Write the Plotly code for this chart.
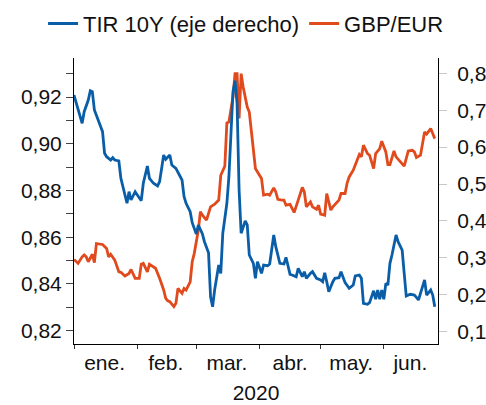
import pandas as pd
import plotly.graph_objects as go

START = pd.Timestamp("2020-01-01")

# GBP/EUR (left axis): day offsets from 2020-01-01 and values
gbp_days = [0, 2, 4, 5, 6, 7, 9, 10, 11, 13,
            14, 16, 17, 18, 20, 22, 23, 25, 27, 28,
            30, 32, 33, 34, 36, 37, 40, 42, 44, 45,
            46, 47, 49, 50, 51, 53, 54, 55, 57, 58,
            59, 61, 62, 63, 65, 67, 69, 71, 72, 74,
            75, 76, 78, 79, 80, 81, 82, 83, 85, 86,
            88, 89, 91, 92, 93, 95, 96, 98, 99, 100,
            102, 103, 104, 106, 107, 108, 110, 112, 113, 114,
            116, 117, 119, 120, 121, 123, 124, 126, 127, 129,
            130, 131, 133, 134, 135, 137, 139, 140, 141, 142,
            144, 145, 147, 148, 150, 151, 153, 154, 155, 157,
            158, 160, 161, 162, 164, 166, 167, 168, 170, 171,
            172, 173, 175, 176, 177]
gbp_eur = [0.8505, 0.8488, 0.8516, 0.8524, 0.8516, 0.8495, 0.8527, 0.8491, 0.8573, 0.8569,
           0.8569, 0.8552, 0.8516, 0.8527, 0.8502, 0.8452, 0.8450, 0.8434, 0.8445, 0.8462,
           0.8424, 0.8424, 0.8484, 0.8488, 0.8452, 0.8484, 0.8467, 0.8424, 0.8374, 0.8338,
           0.8328, 0.8324, 0.8303, 0.8317, 0.8381, 0.8360, 0.8381, 0.8374, 0.8409, 0.8495,
           0.8531, 0.8630, 0.8709, 0.8694, 0.8673, 0.8730, 0.8741, 0.8759, 0.8865, 0.8904,
           0.9089, 0.9093, 0.9200, 0.9300, 0.9300, 0.9108, 0.9300, 0.9243, 0.9157, 0.9136,
           0.8986, 0.8894, 0.8865, 0.8851, 0.8780, 0.8784, 0.8780, 0.8811, 0.8794, 0.8762,
           0.8759, 0.8759, 0.8737, 0.8741, 0.8723, 0.8706, 0.8759, 0.8813, 0.8794, 0.8730,
           0.8751, 0.8730, 0.8720, 0.8737, 0.8699, 0.8694, 0.8787, 0.8716, 0.8730, 0.8751,
           0.8759, 0.8787, 0.8787, 0.8832, 0.8858, 0.8887, 0.8937, 0.8954, 0.8944, 0.8994,
           0.8958, 0.8951, 0.8894, 0.8958, 0.8979, 0.9011, 0.8965, 0.8911, 0.8911, 0.8969,
           0.8944, 0.8925, 0.8918, 0.8904, 0.8969, 0.8972, 0.8965, 0.8941, 0.8951, 0.9011,
           0.9050, 0.9041, 0.9065, 0.9044, 0.9022]

# TIR 10Y (right axis)
tir_days = [0, 2, 4, 5, 7, 8, 9, 10, 12, 14,
            15, 16, 18, 19, 20, 22, 23, 24, 26, 27,
            28, 30, 32, 33, 34, 36, 37, 39, 41, 42,
            44, 45, 47, 48, 50, 52, 53, 54, 55, 57,
            58, 60, 61, 63, 64, 66, 67, 68, 69, 71,
            72, 73, 75, 76, 78, 79, 80, 81, 82, 84,
            85, 86, 88, 89, 90, 92, 93, 95, 96, 98,
            99, 101, 103, 104, 106, 107, 109, 110, 112, 113,
            114, 116, 117, 119, 121, 122, 123, 124, 125, 127,
            128, 130, 131, 133, 135, 137, 138, 140, 141, 142,
            144, 145, 147, 148, 149, 150, 151, 152, 153, 154,
            155, 156, 157, 158, 159, 161, 162, 163, 165, 167,
            168, 169, 171, 172, 173, 175, 176, 177]
tir_10y = [0.741, 0.7053, 0.6646, 0.6960, 0.7277, 0.7529, 0.7502, 0.7006, 0.6690, 0.6419,
           0.5833, 0.5741, 0.5652, 0.5714, 0.5652, 0.5625, 0.5156, 0.4947, 0.4479, 0.4793,
           0.4568, 0.4793, 0.4614, 0.4549, 0.5021, 0.5489, 0.5156, 0.5021, 0.4947, 0.5064,
           0.5787, 0.5671, 0.5787, 0.5516, 0.5427, 0.5199, 0.5110, 0.4658, 0.4479, 0.4251,
           0.3953, 0.3647, 0.3891, 0.3647, 0.3438, 0.3140, 0.1948, 0.1677, 0.2130, 0.2807,
           0.2582, 0.3666, 0.4479, 0.5199, 0.7502, 0.7800, 0.7188, 0.4839, 0.3666, 0.3999,
           0.3891, 0.3078, 0.2853, 0.2447, 0.2897, 0.2582, 0.2807, 0.2788, 0.2834, 0.3620,
           0.3303, 0.2853, 0.2834, 0.3016, 0.2555, 0.2536, 0.2490, 0.2718, 0.2490, 0.2626,
           0.2447, 0.2582, 0.2626, 0.2447, 0.2401, 0.2355, 0.2598, 0.2355, 0.2084, 0.2355,
           0.2447, 0.2463, 0.2626, 0.2328, 0.2176, 0.2265, 0.2509, 0.2536, 0.2447, 0.1769,
           0.1742, 0.1786, 0.2111, 0.1878, 0.2130, 0.1878, 0.2130, 0.1878, 0.2311, 0.2265,
           0.2853, 0.3078, 0.3349, 0.3620, 0.3438, 0.3213, 0.2582, 0.1967, 0.2013, 0.1994,
           0.1932, 0.1859, 0.2219, 0.2401, 0.1994, 0.2130, 0.1994, 0.1677]

month_labels = ["ene.", "feb.", "mar.", "abr.", "may.", "jun."]
month_label_pos = ["2020-01-16", "2020-02-15", "2020-03-16", "2020-04-16", "2020-05-16", "2020-06-14"]
month_starts = ["2020-01-01", "2020-02-01", "2020-03-01", "2020-04-01", "2020-05-01", "2020-06-01"]
left_ticks = [0.82, 0.84, 0.86, 0.88, 0.90, 0.92]
left_minor = [0.83, 0.85, 0.87, 0.89, 0.91, 0.93]
right_ticks = [0.1, 0.2, 0.3, 0.4, 0.5, 0.6, 0.7, 0.8]

BLUE = "#0a5ea8"
ORANGE = "#e04a1c"
FONT = "Liberation Sans, Arial, sans-serif"

gbp_dates = START + pd.to_timedelta(gbp_days, unit="D")
tir_dates = START + pd.to_timedelta(tir_days, unit="D")

fig = go.Figure()
fig.add_trace(go.Scatter(x=gbp_dates, y=gbp_eur, name="GBP/EUR", mode="lines",
                         line=dict(color=ORANGE, width=2.8), yaxis="y", legendrank=2))
fig.add_trace(go.Scatter(x=tir_dates, y=tir_10y, name="TIR 10Y (eje derecho)", mode="lines",
                         line=dict(color=BLUE, width=2.8), yaxis="y2", legendrank=1))

fig.update_layout(
    width=486, height=405,
    margin=dict(l=74, r=48, t=58, b=61, autoexpand=False),
    paper_bgcolor="white", plot_bgcolor="white",
    font=dict(family=FONT, size=21, color="#111"),
    separators=",.",
    showlegend=True,
    legend=dict(orientation="h", x=-0.085, xanchor="left", y=1.12, yanchor="middle",
                font=dict(size=22), itemwidth=30, tracegroupgap=0,
                bgcolor="rgba(0,0,0,0)"),
    xaxis=dict(
        type="date", range=["2020-01-01", "2020-06-27 14:00"],
        tickmode="array", tickvals=month_label_pos, ticktext=month_labels,
        ticks="outside", ticklen=0, showgrid=False, zeroline=False,
        showline=True, linecolor="black", linewidth=1,
        minor=dict(tickmode="array", tickvals=month_starts, ticks="outside",
                   ticklen=4, tickcolor="#333", tickwidth=1, showgrid=False),
        title=dict(text="2020", standoff=12, font=dict(size=21)),
    ),
    yaxis=dict(
        range=[0.8143, 0.9367], tickmode="array", tickvals=left_ticks,
        tickformat=".2f", ticks="outside", ticklen=7, tickcolor="#444",
        showgrid=False, zeroline=False, showline=True, linecolor="black", linewidth=1,
        minor=dict(tickmode="array", tickvals=left_minor, ticks="outside",
                   ticklen=7, tickcolor="#444", showgrid=False),
        ticklabelstandoff=0,
    ),
    yaxis2=dict(
        range=[0.0667, 0.8415], overlaying="y", side="right",
        tickmode="array", tickvals=right_ticks, tickformat=".1f",
        ticks="outside", ticklen=8, tickcolor="#c8c8c8",
        showgrid=False, zeroline=False, showline=True, linecolor="black", linewidth=1,
        ticklabelstandoff=6,
    ),
)

# remove the default 8px body margin so the 486x405 figure fills the window exactly
fig.write_html("out.html", config={"displayModeBar": False},
               post_script="document.body.style.margin='0';document.body.style.overflow='hidden';")
